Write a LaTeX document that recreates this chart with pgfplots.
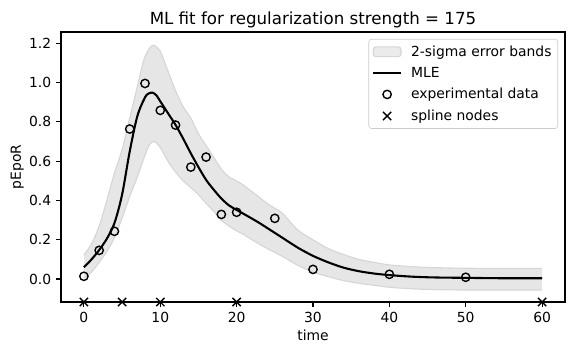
\documentclass[border=0pt]{standalone}
\usepackage{fontspec}
\setmainfont{DejaVu Sans}
\usepackage{pgfplots}
\pgfplotsset{compat=1.18}
\usepgfplotslibrary{fillbetween}
\definecolor{bandfill}{RGB}{230,230,230}
\definecolor{bandedge}{RGB}{214,214,214}
\definecolor{legedge}{RGB}{204,204,204}
\begin{document}
\begin{tikzpicture}
\begin{axis}[
  scale only axis,
  width=362.88pt, height=194.4pt,
  xmin=-3, xmax=63, ymin=-0.117, ymax=1.258,
  clip=false,
  axis line style={line width=0.8pt},
  every tick/.style={black, line width=0.8pt},
  tick align=outside, major tick length=3.5pt,
  xtick pos=left, ytick pos=left,
  xtick={0,10,20,30,40,50,60},
  ytick={0,0.2,0.4,0.6,0.8,1.0,1.2},
  /pgf/number format/assume math mode=true,
  yticklabel style={/pgf/number format/.cd, fixed, fixed zerofill, precision=1},
  tick label style={font=\fontsize{10}{12}\selectfont},
  title={ML fit for regularization strength = 175},
  every axis title/.style={at={(axis description cs:0.5,1.0278)}, anchor=base, font=\fontsize{12}{14}\selectfont},
  xlabel={time}, ylabel={pEpoR},
  every axis x label/.style={at={(axis description cs:0.5,-0.141)}, anchor=base, font=\fontsize{10}{12}\selectfont},
  every axis y label/.style={at={(axis description cs:-0.0794,0.5)}, rotate=90, anchor=base, font=\fontsize{10}{12}\selectfont},
  legend style={at={(1,1)}, anchor=north east, xshift=-5pt, yshift=-5pt,
    draw=legedge, rounded corners=2pt, fill=white, fill opacity=0.8, text opacity=1,
    font=\fontsize{10}{12}\selectfont, row sep=2.4pt, column sep=4.5pt, inner sep=2.5pt},
  legend cell align=left,
]
\addlegendimage{legend image code/.code={\draw[fill=bandfill, draw=bandedge, line width=0.8pt] (0pt,-3.5pt) rectangle (20pt,3.5pt);}}
\addlegendimage{legend image code/.code={\draw[black, line width=1.5pt] (0pt,0pt) -- (20pt,0pt);}}
\addlegendimage{legend image code/.code={\draw[black, line width=1pt, mark=o, mark size=3pt, only marks] plot coordinates {(10pt,0pt)};}}
\addlegendimage{legend image code/.code={\draw[black, line width=1pt, mark=x, mark size=4.2pt, only marks] plot coordinates {(10pt,0pt)};}}
\legend{2-sigma error bands, MLE, experimental data, spline nodes}

% upper band
\addplot[name path=up, draw=bandedge, line width=0.8pt, smooth, forget plot] coordinates {
(0,0.122) (1,0.180) (2,0.270) (3,0.400) (4,0.540) (5,0.660) (6,0.820) (7,0.980)
(7.8,1.110) (8.5,1.170) (9.1,1.191) (10,1.160) (10.8,1.080) (12,0.960) (13,0.877)
(14,0.820) (15,0.740) (16,0.680) (17,0.620) (18,0.560) (19,0.520) (20,0.500)
(21,0.475) (22,0.445) (23,0.415) (24,0.385) (25,0.360) (26,0.335) (28,0.250)
(30,0.200) (32,0.155) (34,0.125) (36,0.100) (38,0.085) (40,0.072) (43,0.063)
(46,0.058) (50,0.055) (55,0.054) (60,0.054)};
% lower band
\addplot[name path=lo, draw=bandedge, line width=0.8pt, smooth, forget plot] coordinates {
(0,0.005) (1,0.035) (2,0.085) (3,0.140) (4,0.210) (5,0.310) (6,0.420) (7,0.520)
(8,0.630) (8.6,0.685) (9.2,0.700) (10,0.670) (11,0.600) (12,0.545) (13,0.500)
(14,0.465) (15,0.430) (16,0.385) (17,0.345) (18,0.300) (19,0.270) (20,0.245)
(21,0.225) (22,0.200) (24,0.155) (26,0.115) (28,0.070) (30,0.035) (32,0.012)
(34,-0.008) (36,-0.022) (38,-0.032) (40,-0.042) (43,-0.050) (46,-0.054)
(50,-0.056) (55,-0.056) (60,-0.056)};
\addplot[bandfill, forget plot] fill between[of=up and lo];

% MLE
\addplot[black, line width=1.5pt, smooth, forget plot] coordinates {
(0,0.060) (1,0.100) (2,0.148) (3,0.205) (4,0.285) (5,0.430) (6,0.650) (7,0.830)
(8,0.925) (8.5,0.945) (9,0.949) (9.5,0.935) (10,0.905) (11,0.845) (12,0.785)
(13,0.715) (14,0.640) (15,0.570) (16,0.505) (17,0.455) (18,0.410) (19,0.375)
(20,0.352) (21,0.330) (22,0.308) (23,0.285) (24,0.260) (25,0.235) (26,0.210)
(28,0.160) (30,0.118) (32,0.085) (34,0.058) (36,0.040) (38,0.028) (40,0.020)
(43,0.012) (46,0.008) (50,0.006) (55,0.004) (60,0.004)};

% experimental data
\addplot[only marks, mark=o, mark size=3pt, black, line width=1pt, forget plot] coordinates {
(0,0.014) (2,0.146) (4,0.243) (6,0.764) (8,0.996) (10,0.859) (12,0.784) (14,0.570)
(16,0.621) (18,0.329) (20,0.340) (25,0.309) (30,0.049) (40,0.024) (50,0.009)};

% spline nodes
\addplot[only marks, mark=x, mark size=4.2pt, black, line width=1pt, forget plot] coordinates {
(0,-0.117) (5,-0.117) (10,-0.117) (20,-0.117) (60,-0.117)};
\end{axis}
\pgfresetboundingbox
\path[use as bounding box] (-43.92pt,-38.16pt) rectangle (370.08pt,217.44pt);
\end{tikzpicture}
\end{document}
